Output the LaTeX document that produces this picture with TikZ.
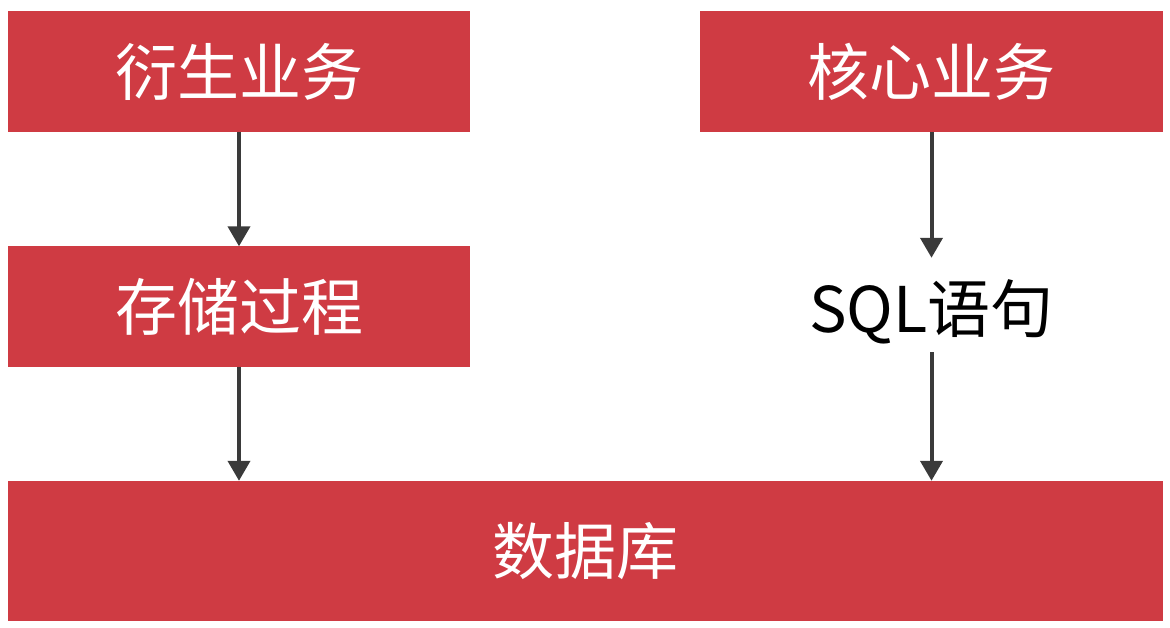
\documentclass[tikz,border=0pt]{standalone}
\usepackage{fontspec}
\newfontfamily\cjk{Noto Sans CJK SC}
\usetikzlibrary{arrows.meta}
\definecolor{boxred}{RGB}{207,59,67}
\definecolor{arrowgray}{RGB}{58,58,58}
\tikzset{
  redbox/.style={fill=boxred, draw=none, inner sep=0pt, text=white, font=\cjk\fontsize{62}{62}\selectfont},
  flow/.style={draw=arrowgray, line width=4pt, -{Triangle[length=20pt,width=22pt]}}
}
\begin{document}
\begin{tikzpicture}[x=1pt,y=1pt]
\useasboundingbox (0,0) rectangle (1170,-628);
\node[redbox, minimum width=462pt, minimum height=121pt] (b1) at (239,-71.5) {衍生业务};
\node[redbox, minimum width=463pt, minimum height=121pt] (b2) at (931.5,-71.5) {核心业务};
\node[redbox, minimum width=462pt, minimum height=120pt] (b3) at (239,-306.5) {存储过程};
\node[redbox, minimum width=1155pt, minimum height=140pt] (db) at (585.5,-551) {数据库};
\node[inner sep=0pt, minimum height=94pt, font=\cjk\fontsize{63}{63}\selectfont] (sql) at (931.5,-305) {\raisebox{-7pt}[\height][\depth]{SQL语句}};
\draw[flow] (b1.south) -- (b3.north);
\draw[flow] (b3.south) -- (b3.south |- db.north);
\draw[flow] (b2.south) -- (sql.north);
\draw[flow] (sql.south) -- (sql.south |- db.north);
\end{tikzpicture}
\end{document}
